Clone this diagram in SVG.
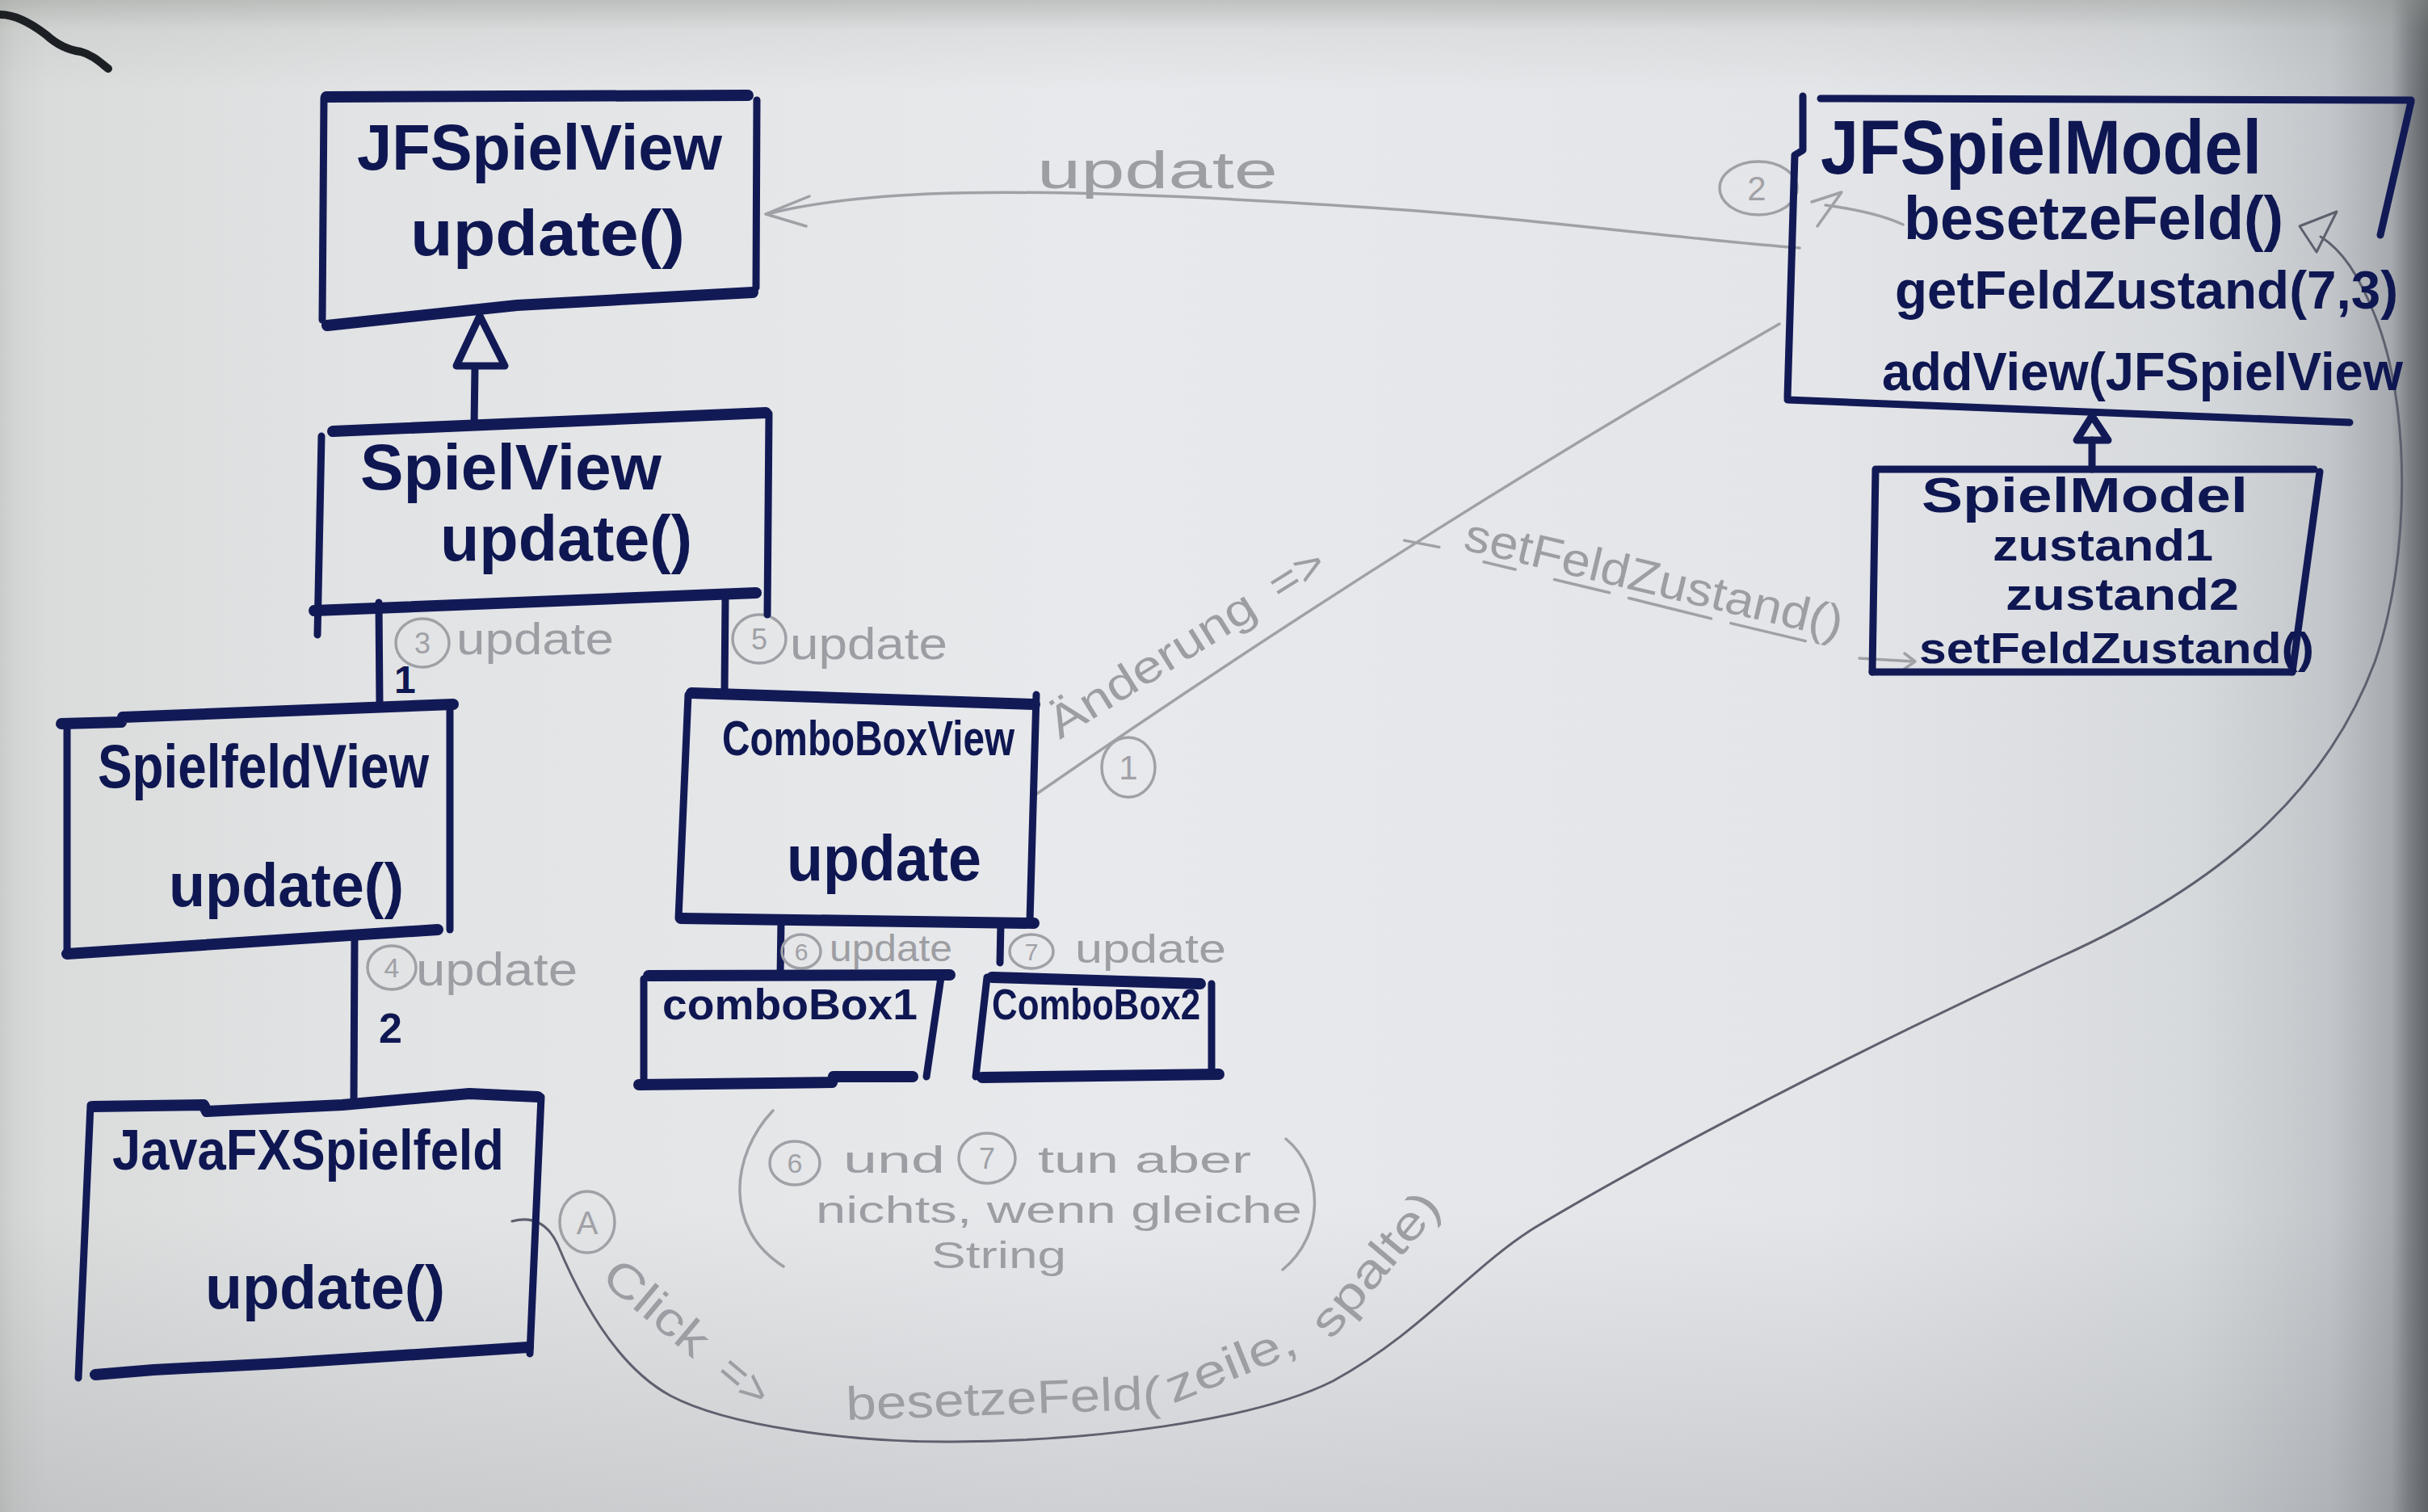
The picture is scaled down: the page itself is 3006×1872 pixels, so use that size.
<svg xmlns="http://www.w3.org/2000/svg" width="3006" height="1872" viewBox="0 0 3006 1872">
<defs>
<style>
.ink{fill:none;stroke:#121a56;stroke-width:9;stroke-linecap:round;stroke-linejoin:round}
.thick{stroke-width:14}
.it{font-family:"Liberation Sans","DejaVu Sans",Arial,sans-serif;font-weight:bold;fill:#0f1752}
.pc{fill:none;stroke:#a0a1a6;stroke-width:3.5;stroke-linecap:round;stroke-linejoin:round}
.pd{fill:none;stroke:#5e606e;stroke-width:3;stroke-linecap:round;stroke-linejoin:round}
.pt{font-family:"Liberation Sans","DejaVu Sans",Arial,sans-serif;fill:#9d9ea3}
.num{font-family:"Liberation Sans","DejaVu Sans",Arial,sans-serif;fill:#a0a1a6;text-anchor:middle}
</style>
<linearGradient id="paperH" x1="0" y1="0" x2="1" y2="0">
<stop offset="0" stop-color="#c9ccca"/>
<stop offset="0.006" stop-color="#d3d5d4"/>
<stop offset="0.02" stop-color="#dadcdc"/>
<stop offset="0.15" stop-color="#e1e3e4"/>
<stop offset="0.45" stop-color="#e8e9ec"/>
<stop offset="0.75" stop-color="#e4e5e8"/>
<stop offset="0.9" stop-color="#d7dadd"/>
<stop offset="0.96" stop-color="#c2c6ca"/>
<stop offset="0.985" stop-color="#a6aaae"/>
<stop offset="0.992" stop-color="#7f8388"/>
<stop offset="1" stop-color="#5f6367"/>
</linearGradient>
<linearGradient id="paperV" x1="0" y1="0" x2="0" y2="1">
<stop offset="0" stop-color="#8f928c" stop-opacity="0.45"/>
<stop offset="0.02" stop-color="#8f928c" stop-opacity="0.12"/>
<stop offset="0.06" stop-color="#8f928c" stop-opacity="0"/>
<stop offset="0.8" stop-color="#5a5e64" stop-opacity="0"/>
<stop offset="1" stop-color="#5a5e64" stop-opacity="0.18"/>
</linearGradient>
</defs>

<!-- paper -->
<rect width="3006" height="1872" fill="url(#paperH)"/>
<rect width="3006" height="1872" fill="url(#paperV)"/>
<path d="M0,18 C20,18 40,30 57,43 C70,55 85,62 100,64 C115,68 125,78 134,85" fill="none" stroke="#1c2024" stroke-width="10" stroke-linecap="round"/>

<!-- connectors -->
<g id="connectors">
  <!-- inheritance SpielView -> JFSpielView -->
  <path class="ink" d="M587,527 L588,455"/>
  <path class="ink" d="M594,391 L565,453 L625,453 Z"/>
  <!-- SpielView -> SpielfeldView / ComboBoxView -->
  <path class="ink" d="M469,746 L470,872"/>
  <path class="ink" d="M898,738 L897,858"/>
  <!-- SpielfeldView -> JavaFXSpielfeld -->
  <path class="ink" d="M439,1160 L438,1364"/>
  <!-- ComboBoxView -> combo boxes -->
  <path class="ink" d="M967,1140 L966,1208"/>
  <path class="ink" d="M1239,1143 L1238,1192"/>
  <!-- SpielModel -> JFSpielModel -->
  <path class="ink" d="M2590,581 L2590,545"/>
  <path class="ink" d="M2590,515 L2571,545 L2610,545 Z"/>

  <!-- update call back to JFSpielView -->
  <path class="pc" d="M2228,307 C2080,296 1880,268 1680,256 C1500,244 1300,234 1150,240 C1060,244 1000,252 950,265"/>
  <path class="pc" d="M1002,243 L948,265 L998,280"/>
  <!-- mark at JFSpielModel -->
  <path class="pc" d="M2243,250 L2280,238 L2250,280"/>
  <path class="pc" d="M2260,254 C2290,258 2330,266 2356,278"/>

  <!-- ComboBoxView -> JFSpielModel (Aenderung) -->
  <path class="pc" d="M1279,986 Q1750,660 2203,401"/>
  <!-- arrow into setFeldZustand() -->
  <path class="pc" d="M2302,815 L2370,819 M2358,809 L2371,819 L2358,828"/>

  <!-- click -> besetzeFeld -->
  <path class="pd" d="M634,1512 C660,1505 678,1515 690,1540 C715,1600 760,1690 830,1728 C900,1765 1050,1786 1180,1785 C1350,1784 1550,1760 1650,1710 C1760,1650 1820,1570 1900,1520 C2050,1430 2300,1300 2550,1185 C2750,1095 2880,980 2940,820 C2985,690 2985,500 2940,390 C2920,340 2900,310 2873,293"/>
  <path class="pd" d="M2847,280 L2893,262 L2868,312 Z"/>
</g>

<!-- pencil labels -->
<g id="labels">
  <text class="pt" x="1284" y="233" font-size="64" textLength="298" lengthAdjust="spacingAndGlyphs">update</text>
  <ellipse class="pc" cx="2177" cy="233" rx="48" ry="33"/>
  <text class="num" x="2175" y="248" font-size="42">2</text>

  <ellipse class="pc" cx="523" cy="796" rx="33" ry="30"/>
  <text class="num" x="523" y="809" font-size="36">3</text>
  <text class="pt" x="565" y="810" font-size="56" textLength="195" lengthAdjust="spacingAndGlyphs">update</text>

  <ellipse class="pc" cx="940" cy="791" rx="33" ry="30"/>
  <text class="num" x="940" y="804" font-size="36">5</text>
  <text class="pt" x="978" y="816" font-size="56" textLength="195" lengthAdjust="spacingAndGlyphs">update</text>

  <ellipse class="pc" cx="485" cy="1198" rx="30" ry="27"/>
  <text class="num" x="485" y="1210" font-size="34">4</text>
  <text class="pt" x="515" y="1220" font-size="58" textLength="200" lengthAdjust="spacingAndGlyphs">update</text>

  <ellipse class="pc" cx="992" cy="1178" rx="24" ry="21"/>
  <text class="num" x="992" y="1189" font-size="30">6</text>
  <text class="pt" x="1027" y="1190" font-size="46" textLength="152" lengthAdjust="spacingAndGlyphs">update</text>

  <ellipse class="pc" cx="1277" cy="1178" rx="27" ry="21"/>
  <text class="num" x="1277" y="1189" font-size="30">7</text>
  <text class="pt" x="1331" y="1192" font-size="50" textLength="187" lengthAdjust="spacingAndGlyphs">update</text>

  <!-- Aenderung => -->
  <g transform="translate(1312,916) rotate(-32)">
    <text class="pt" x="0" y="0" font-size="56" textLength="292" lengthAdjust="spacingAndGlyphs">Änderung</text>
    <text class="pt" x="322" y="0" font-size="56" textLength="72" lengthAdjust="spacingAndGlyphs">=&gt;</text>
  </g>
  <ellipse class="pc" cx="1397" cy="950" rx="33" ry="37"/>
  <text class="num" x="1397" y="965" font-size="42">1</text>

  <!-- setFeldZustand() -->
  <g transform="translate(1810,680) rotate(13.4)">
    <path class="pc" d="M-72,6 L-28,4"/>
    <text class="pt" x="0" y="0" font-size="58" textLength="480" lengthAdjust="spacingAndGlyphs">setFeldZustand()</text>
    <path class="pc" d="M30,9 L70,9 M120,10 L190,10 M215,11 L320,12 M345,12 L440,12"/>
  </g>

  <!-- note -->
  <path class="pc" d="M957,1375 C905,1430 895,1520 970,1568"/>
  <path class="pc" d="M1592,1410 C1640,1450 1640,1530 1588,1572"/>
  <ellipse class="pc" cx="984" cy="1440" rx="31" ry="27"/>
  <text class="num" x="984" y="1452" font-size="34">6</text>
  <text class="pt" x="1044" y="1452" font-size="46" textLength="126" lengthAdjust="spacingAndGlyphs">und</text>
  <ellipse class="pc" cx="1222" cy="1434" rx="35" ry="31"/>
  <text class="num" x="1222" y="1447" font-size="36">7</text>
  <text class="pt" x="1285" y="1452" font-size="46" textLength="264" lengthAdjust="spacingAndGlyphs">tun aber</text>
  <text class="pt" x="1010" y="1514" font-size="46" textLength="602" lengthAdjust="spacingAndGlyphs">nichts, wenn gleiche</text>
  <text class="pt" x="1153" y="1570" font-size="46" textLength="167" lengthAdjust="spacingAndGlyphs">String</text>

  <!-- click -->
  <ellipse class="pc" cx="727" cy="1513" rx="34" ry="38"/>
  <text class="num" x="727" y="1528" font-size="40">A</text>
  <g transform="translate(742,1585) rotate(40)">
    <text class="pt" x="0" y="0" font-size="58" textLength="152" lengthAdjust="spacingAndGlyphs">Click</text>
    <text class="pt" x="185" y="0" font-size="58" textLength="66" lengthAdjust="spacingAndGlyphs">=&gt;</text>
  </g>
  <!-- besetzeFeld(zeile, spalte) following the curve -->
  <text class="pt" x="0" y="0" font-size="58" transform="translate(1048,1758) rotate(-2)" textLength="390" lengthAdjust="spacingAndGlyphs">besetzeFeld(</text>
  <text class="pt" x="0" y="0" font-size="58" transform="translate(1452,1738) rotate(-22)" textLength="170" lengthAdjust="spacingAndGlyphs">zeile,</text>
  <text class="pt" x="0" y="0" font-size="58" transform="translate(1648,1660) rotate(-50)" textLength="215" lengthAdjust="spacingAndGlyphs">spalte)</text>

  <!-- multiplicities -->
  <text class="it" x="488" y="858" font-size="48">1</text>
  <text class="it" x="469" y="1291" font-size="52">2</text>
</g>

<!-- classes -->
<g id="jfspielview">
  <path class="ink thick" d="M404,120 L926,118"/>
  <path class="ink" d="M937,124 L936,356"/>
  <path class="ink thick" d="M932,362 L640,378 L405,403"/>
  <path class="ink" d="M401,121 L399,396"/>
  <text class="it" x="442" y="210" font-size="80" textLength="452" lengthAdjust="spacingAndGlyphs">JFSpielView</text>
  <text class="it" x="508" y="316" font-size="80" textLength="340" lengthAdjust="spacingAndGlyphs">update()</text>
</g>

<g id="spielview">
  <path class="ink thick" d="M412,534 L948,511"/>
  <path class="ink" d="M952,512 L950,761"/>
  <path class="ink thick" d="M389,756 L936,734"/>
  <path class="ink" d="M398,540 L393,786"/>
  <text class="it" x="446" y="606" font-size="80" textLength="373" lengthAdjust="spacingAndGlyphs">SpielView</text>
  <text class="it" x="545" y="694" font-size="80" textLength="312" lengthAdjust="spacingAndGlyphs">update()</text>
</g>

<g id="spielfeldview">
  <path class="ink thick" d="M76,896 L150,894 L152,888 L561,872"/>
  <path class="ink" d="M557,872 L557,1151"/>
  <path class="ink thick" d="M83,1181 L542,1151"/>
  <path class="ink" d="M83,896 L83,1181"/>
  <text class="it" x="121" y="975" font-size="76" textLength="410" lengthAdjust="spacingAndGlyphs">SpielfeldView</text>
  <text class="it" x="209" y="1122" font-size="76" textLength="291" lengthAdjust="spacingAndGlyphs">update()</text>
</g>

<g id="javafxspielfeld">
  <path class="ink thick" d="M115,1370 L252,1368 L256,1376 L424,1368 L581,1354 L666,1358"/>
  <path class="ink" d="M670,1358 L656,1676"/>
  <path class="ink thick" d="M118,1702 L190,1696 L345,1688 L654,1668"/>
  <path class="ink" d="M112,1368 L97,1706"/>
  <text class="it" x="139" y="1448" font-size="70" textLength="485" lengthAdjust="spacingAndGlyphs">JavaFXSpielfeld</text>
  <text class="it" x="254" y="1620" font-size="76" textLength="297" lengthAdjust="spacingAndGlyphs">update()</text>
</g>

<g id="comboboxview">
  <path class="ink thick" d="M856,858 L1281,872"/>
  <path class="ink" d="M1283,860 L1275,1140"/>
  <path class="ink thick" d="M843,1137 L1280,1143"/>
  <path class="ink" d="M852,860 L840,1137"/>
  <text class="it" x="894" y="935" font-size="62" textLength="362" lengthAdjust="spacingAndGlyphs">ComboBoxView</text>
  <text class="it" x="974" y="1090" font-size="80" textLength="241" lengthAdjust="spacingAndGlyphs">update</text>
</g>

<g id="combobox1">
  <path class="ink thick" d="M803,1208 L1176,1207"/>
  <path class="ink" d="M1165,1210 L1147,1333"/>
  <path class="ink thick" d="M791,1343 L1030,1340 L1032,1333 L1130,1333"/>
  <path class="ink" d="M797,1212 L797,1336"/>
  <text class="it" x="820" y="1262" font-size="54" textLength="316" lengthAdjust="spacingAndGlyphs">comboBox1</text>
</g>

<g id="combobox2">
  <path class="ink thick" d="M1228,1210 L1486,1218"/>
  <path class="ink" d="M1500,1218 L1500,1330"/>
  <path class="ink thick" d="M1216,1334 L1509,1330"/>
  <path class="ink" d="M1222,1210 L1208,1333"/>
  <text class="it" x="1228" y="1262" font-size="54" textLength="258" lengthAdjust="spacingAndGlyphs">ComboBox2</text>
</g>

<g id="jfspielmodel">
  <path class="ink" d="M2254,122 L2985,124"/>
  <path class="ink" d="M2985,126 L2947,291"/>
  <path class="ink" d="M2232,119 L2232,186 L2222,192 L2213,492"/>
  <path class="ink" d="M2213,495 L2909,523"/>
  <text class="it" x="2254" y="215" font-size="95" textLength="546" lengthAdjust="spacingAndGlyphs">JFSpielModel</text>
  <text class="it" x="2357" y="296" font-size="76" textLength="470" lengthAdjust="spacingAndGlyphs">besetzeFeld()</text>
  <text class="it" x="2346" y="382" font-size="66" textLength="623" lengthAdjust="spacingAndGlyphs">getFeldZustand(7,3)</text>
  <text class="it" x="2330" y="483" font-size="66" textLength="645" lengthAdjust="spacingAndGlyphs">addView(JFSpielView</text>
</g>

<g id="spielmodel">
  <path class="ink" d="M2325,581 L2865,581"/>
  <path class="ink" d="M2872,584 L2838,832"/>
  <path class="ink" d="M2318,832 L2838,832"/>
  <path class="ink" d="M2322,581 L2318,832"/>
  <text class="it" x="2379" y="634" font-size="62" textLength="404" lengthAdjust="spacingAndGlyphs">SpielModel</text>
  <text class="it" x="2467" y="694" font-size="56" textLength="273" lengthAdjust="spacingAndGlyphs">zustand1</text>
  <text class="it" x="2483" y="755" font-size="56" textLength="289" lengthAdjust="spacingAndGlyphs">zustand2</text>
  <text class="it" x="2376" y="821" font-size="54" textLength="489" lengthAdjust="spacingAndGlyphs">setFeldZustand()</text>
</g>
</svg>
